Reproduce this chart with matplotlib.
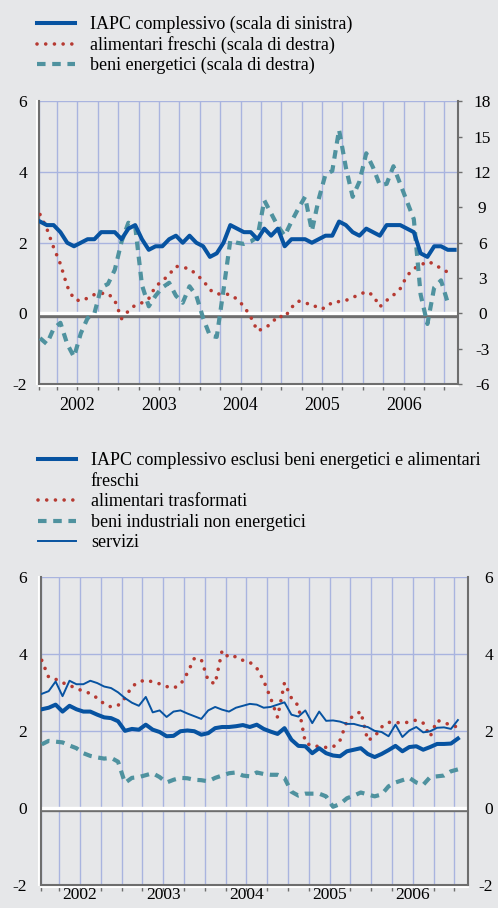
import matplotlib
matplotlib.use('Agg')
import matplotlib.pyplot as plt
import matplotlib.patheffects as pe
import pandas as pd

plt.rcParams['font.family'] = ['Liberation Serif', 'DejaVu Serif']
plt.rcParams['axes.unicode_minus'] = False

# --- dati (variazioni percentuali sui dodici mesi) ---
mesi_iapc = pd.period_range('2002-01', '2007-02', freq='M')
mesi = pd.period_range('2002-01', '2007-01', freq='M')

iapc = [2.6, 2.5, 2.5, 2.3, 2.0, 1.9, 2.0, 2.1, 2.1, 2.3, 2.3, 2.3,
        2.1, 2.4, 2.5, 2.1, 1.8, 1.9, 1.9, 2.1, 2.2, 2.0, 2.2, 2.0,
        1.9, 1.6, 1.7, 2.0, 2.5, 2.4, 2.3, 2.3, 2.1, 2.4, 2.2, 2.4,
        1.9, 2.1, 2.1, 2.1, 2.0, 2.1, 2.2, 2.2, 2.6, 2.5, 2.3, 2.2,
        2.4, 2.3, 2.2, 2.5, 2.5, 2.5, 2.4, 2.3, 1.7, 1.6, 1.9, 1.9,
        1.8, 1.8]
alim_freschi = [8.4, 7.2, 5.6, 4.2, 2.3, 1.2, 1.05, 1.3, 1.6, 1.7, 1.7, 1.1,
                -0.45, 0.2, 0.7, 0.9, 1.25, 2.3, 2.75, 3.3, 4.0, 3.9, 3.8, 3.3,
                2.8, 2.0, 1.65, 1.65, 1.6, 1.2, 0.6, -0.3, -1.5, -1.25, -0.9, -0.2,
                -0.35, 0.5, 1.05, 0.85, 0.8, 0.4, 0.45, 0.95, 1.0, 1.1, 1.35, 1.6,
                1.85, 1.55, 0.56, 1.1, 1.55, 2.1, 3.2, 3.8, 4.1, 4.4, 4.2, 3.8,
                3.5]
energetici = [-2.1, -2.6, -1.3, -0.8, -2.6, -3.7, -1.7, -0.4, 0.0, 2.2, 2.5, 3.7,
              6.1, 7.7, 7.4, 2.4, 0.6, 1.5, 2.2, 2.6, 1.5, 0.9, 2.3, 1.5,
              -0.4, -1.9, -2.0, 2.0, 6.2, 6.0, 5.9, 6.1, 6.5, 9.6, 8.5, 7.4,
              6.6, 7.8, 8.9, 9.9, 7.0, 9.7, 11.8, 12.1, 15.6, 12.4, 9.9, 11.2,
              13.6, 12.4, 10.9, 11.0, 12.5, 11.0, 9.5, 8.0, 1.6, -0.9, 2.2, 2.8,
              0.9]

iapc_core = [2.56, 2.6, 2.68, 2.5, 2.65, 2.56, 2.5, 2.5, 2.42, 2.35, 2.33, 2.25,
             2.0, 2.05, 2.03, 2.16, 2.03, 1.97, 1.86, 1.87, 1.99, 2.01, 1.99, 1.9,
             1.94, 2.07, 2.1, 2.1, 2.12, 2.15, 2.1, 2.16, 2.05, 1.98, 1.92, 2.07,
             1.77, 1.61, 1.6, 1.42, 1.55, 1.42, 1.36, 1.34, 1.47, 1.51, 1.55, 1.4,
             1.32, 1.4, 1.5, 1.61, 1.47, 1.58, 1.6, 1.51, 1.58, 1.66, 1.66, 1.67,
             1.8]
alim_trasf = [3.83, 3.39, 3.34, 3.25, 3.18, 3.1, 3.03, 2.97, 2.85, 2.7, 2.62, 2.66,
              2.85, 3.15, 3.27, 3.32, 3.27, 3.22, 3.15, 3.11, 3.2, 3.5, 3.88, 3.85,
              3.3, 3.22, 4.08, 3.9, 3.93, 3.83, 3.78, 3.63, 3.3, 2.85, 2.35, 3.25,
              2.85, 2.65, 1.7, 1.6, 1.6, 1.57, 1.58, 1.75, 2.25, 2.4, 2.5, 1.75,
              1.85, 2.1, 2.22, 2.22, 2.2, 2.23, 2.28, 2.2, 1.85, 2.27, 2.22, 2.14,
              2.1]
beni_ind = [1.65, 1.74, 1.72, 1.7, 1.62, 1.55, 1.42, 1.35, 1.31, 1.28, 1.3, 1.2,
            0.65, 0.78, 0.8, 0.85, 0.9, 0.8, 0.66, 0.73, 0.78, 0.77, 0.73, 0.72,
            0.69, 0.78, 0.84, 0.9, 0.92, 0.84, 0.82, 0.92, 0.88, 0.86, 0.86, 0.78,
            0.42, 0.32, 0.37, 0.37, 0.37, 0.3, 0.03, 0.1, 0.25, 0.32, 0.4, 0.35,
            0.3, 0.35, 0.56, 0.66, 0.72, 0.78, 0.66, 0.6, 0.8, 0.82, 0.84, 0.95,
            1.0]
servizi = [2.96, 3.03, 3.28, 2.9, 3.3, 3.21, 3.21, 3.3, 3.24, 3.15, 3.11, 3.0,
           2.85, 2.73, 2.65, 2.88, 2.48, 2.53, 2.36, 2.5, 2.53, 2.45, 2.38, 2.31,
           2.53, 2.62, 2.55, 2.5, 2.6, 2.65, 2.7, 2.68, 2.6, 2.62, 2.68, 2.74,
           2.42, 2.37, 2.53, 2.2, 2.5, 2.26, 2.27, 2.24, 2.18, 2.18, 2.13, 2.1,
           2.0, 1.97, 1.86, 2.16, 1.84, 2.01, 2.1, 1.96, 1.99, 2.08, 2.09, 2.05,
           2.28]

anni = ['2002', '2003', '2004', '2005', '2006']

# --- stile ---
BG = '#e6e7e9'
GRID = '#a9b4df'
SPINE = '#6e6e6e'
BLU = '#0753a1'
ROSSO = '#b63a32'
VERDE = '#4f929f'
FS = 12.5
FS_LEG = 13

stile_punti = dict(color=ROSSO, lw=2.6, linestyle=(0, (0.01, 2.4)), dash_capstyle='round')
stile_tratti = dict(color=VERDE, lw=3.0, linestyle=(0, (2.05, 1.6)), dash_capstyle='butt')


def pos(periodi):
    return [(p.year - 2002) * 12 + p.month - 0.5 for p in periodi]


def prepara(ax, pad_anni, fs_anni):
    ax.set_facecolor(BG)
    ax.set_xlim(0.35, 62.0)
    ax.set_ylim(-2, 6)
    ax.set_yticks([-2, 0, 2, 4, 6])
    ax.xaxis.remove_overlapping_locs = False
    ax.set_xticks([0.35] + list(range(3, 61, 3)))
    ax.set_xticklabels([])
    ax.set_xticks([6, 18, 30, 42, 54], minor=True)
    ax.set_xticklabels(anni, minor=True, fontsize=fs_anni)
    ax.tick_params(axis='x', which='major', direction='out', length=4, width=1, color=SPINE)
    ax.tick_params(axis='x', which='minor', length=0, pad=pad_anni)
    ax.grid(True, which='major', color=GRID, lw=1.0)
    ax.set_axisbelow(True)
    for s in ['top', 'right']:
        ax.spines[s].set_visible(False)
    for s in ['left', 'bottom']:
        ax.spines[s].set_color(SPINE)
        ax.spines[s].set_linewidth(1.5)
    ax.spines['left'].set_path_effects([pe.SimpleLineShadow(offset=(-1.3, 0), shadow_color='white', alpha=1, rho=1), pe.Normal()])
    ax.spines['bottom'].set_path_effects([pe.SimpleLineShadow(offset=(0, -1.3), shadow_color='white', alpha=1, rho=1), pe.Normal()])
    ax.axhline(0, color='white', lw=2.4, zorder=1.5,
               path_effects=[pe.SimpleLineShadow(offset=(0, -1.6), shadow_color=SPINE, alpha=1, rho=1), pe.Normal()])


fig = plt.figure(figsize=(4.98, 9.08), dpi=100, facecolor=BG)

# ---------- pannello superiore ----------
ax1 = fig.add_axes([39 / 498, 1 - 384 / 908, 419 / 498, 282.5 / 908])
prepara(ax1, 9, 13)
ax1.tick_params(axis='y', length=0, pad=8.6, labelsize=FS)
ax1r = ax1.twinx()
ax1r.set_ylim(-6, 18)
ax1r.set_yticks(range(-6, 19, 3))
ax1r.tick_params(axis='y', direction='out', length=3, width=1, color=SPINE, pad=14.5, labelsize=FS)
for t in ax1r.get_yticklabels():
    t.set_horizontalalignment('center')
for s in ['top', 'left', 'bottom']:
    ax1r.spines[s].set_visible(False)
ax1r.spines['right'].set_color(SPINE)
ax1r.spines['right'].set_linewidth(1.5)

l_fre, = ax1r.plot(pos(mesi), alim_freschi, zorder=3, **stile_punti)
l_ene, = ax1r.plot(pos(mesi), energetici, zorder=3, **stile_tratti)
l_iapc, = ax1r.plot(pos(mesi_iapc), [v * 3 for v in iapc], color=BLU, lw=2.9, zorder=4)

fig.legend([l_iapc, l_fre, l_ene],
           ['IAPC complessivo (scala di sinistra)',
            'alimentari freschi (scala di destra)',
            'beni energetici (scala di destra)'],
           loc='upper left', bbox_to_anchor=(37 / 498, 1 - 16 / 908), frameon=False,
           fontsize=FS_LEG, handlelength=2.1, handletextpad=0.83, labelspacing=0.15,
           borderpad=0, borderaxespad=0)

# ---------- pannello inferiore ----------
ax2 = fig.add_axes([40.7 / 498, 1 - 885 / 908, 427.6 / 498, 308.3 / 908])
prepara(ax2, 1.5, 12.5)
ax2.tick_params(axis='y', length=0, pad=9.9, labelsize=FS)
ax2r = ax2.twinx()
ax2r.set_ylim(-2, 6)
ax2r.set_yticks([-2, 0, 2, 4, 6])
ax2r.tick_params(axis='y', length=0, pad=18, labelsize=FS)
for t in ax2r.get_yticklabels():
    t.set_horizontalalignment('right')
for s in ['top', 'left', 'bottom']:
    ax2r.spines[s].set_visible(False)
ax2r.spines['right'].set_color(SPINE)
ax2r.spines['right'].set_linewidth(1.5)

l_tra, = ax2.plot(pos(mesi), alim_trasf, zorder=3, **stile_punti)
l_ind, = ax2.plot(pos(mesi), beni_ind, zorder=3, **stile_tratti)
l_ser, = ax2.plot(pos(mesi), servizi, color=BLU, lw=1.4, zorder=3)
l_core, = ax2.plot(pos(mesi), iapc_core, color=BLU, lw=2.9, zorder=4)
vuoto, = ax2.plot([], [], color='none')

fig.legend([l_core, vuoto, l_tra, l_ind, l_ser],
           ['IAPC complessivo esclusi beni energetici e alimentari',
            'freschi',
            'alimentari trasformati',
            'beni industriali non energetici',
            'servizi'],
           loc='upper left', bbox_to_anchor=(38 / 498, 1 - 452 / 908), frameon=False,
           fontsize=FS_LEG, handlelength=2.1, handletextpad=0.83, labelspacing=0.2,
           borderpad=0, borderaxespad=0)

fig.savefig('out.png', dpi=100, facecolor=BG)
